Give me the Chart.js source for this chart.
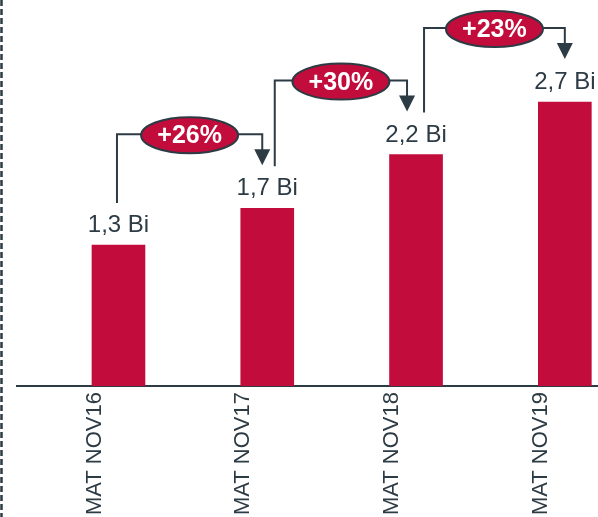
<!DOCTYPE html>
<html>
<head>
<meta charset="utf-8">
<script src="https://cdn.jsdelivr.net/npm/chart.js@4/dist/chart.umd.min.js"></script>
<style>
  body { margin: 0; background: #fff; }
  #wrap { width: 598px; height: 517px; position: relative; }
</style>
</head>
<body>
<div id="wrap"><canvas id="myChart"></canvas></div>
<script>
const categories = ['MAT NOV16', 'MAT NOV17', 'MAT NOV18', 'MAT NOV19'];
const values = [1.34, 1.69, 2.2, 2.7];
const valueLabels = ['1,3 Bi', '1,7 Bi', '2,2 Bi', '2,7 Bi'];
const growth = ['+26%', '+30%', '+23%'];

const red = '#C20C3B';
const slate = '#2D3B45';
const ctx = document.getElementById('myChart');

// where each connector leaves the bar and where its arrow lands
const startDx = [-1.5, 7.5, 8];
const endDx = [-5, -9, 0];

const annotations = {
    id: 'annotations',
    afterDatasetsDraw(chart) {
        const c = chart.ctx;
        const xs = chart.scales.x;
        const ys = chart.scales.y;
        c.save();

        // dashed line on the left edge
        c.strokeStyle = slate;
        c.lineWidth = 2.5;
        c.setLineDash([6, 3]);
        c.beginPath();
        c.moveTo(1.5, 0);
        c.lineTo(1.5, chart.height);
        c.stroke();
        c.setLineDash([]);

        // value labels
        c.fillStyle = slate;
        c.font = '24px "Liberation Sans", Arial, sans-serif';
        c.textAlign = 'center';
        c.textBaseline = 'alphabetic';
        values.forEach((v, i) => {
            c.fillText(valueLabels[i], xs.getPixelForValue(i), ys.getPixelForValue(v) - 13);
        });

        // growth connectors
        growth.forEach((g, i) => {
            const x1 = xs.getPixelForValue(i) + startDx[i];
            const x2 = xs.getPixelForValue(i + 1) + endDx[i];
            const yBottom = ys.getPixelForValue(values[i]) - 42;
            const yLine = ys.getPixelForValue(values[i + 1]) - 74;
            const yTip = ys.getPixelForValue(values[i + 1]) - 43;

            c.strokeStyle = slate;
            c.lineWidth = 2;
            c.beginPath();
            c.moveTo(x1, yBottom);
            c.lineTo(x1, yLine);
            c.lineTo(x2, yLine);
            c.lineTo(x2, yTip - 14);
            c.stroke();

            c.fillStyle = slate;
            c.beginPath();
            c.moveTo(x2 - 8, yTip - 16);
            c.lineTo(x2 + 8, yTip - 16);
            c.lineTo(x2, yTip);
            c.closePath();
            c.fill();

            const cx = (x1 + x2) / 2;
            c.beginPath();
            c.ellipse(cx, yLine + 1, 48.5, 18, 0, 0, Math.PI * 2);
            c.fillStyle = red;
            c.fill();
            c.lineWidth = 2;
            c.strokeStyle = slate;
            c.stroke();

            c.fillStyle = '#fff';
            c.font = 'bold 25px "Liberation Sans", Arial, sans-serif';
            c.textAlign = 'center';
            c.textBaseline = 'middle';
            c.fillText(g, cx, yLine + 2);
        });
        c.restore();
    }
};

new Chart(ctx, {
    type: 'bar',
    data: {
        datasets: [{
            data: values.map((v, i) => ({ x: i, y: v })),
            backgroundColor: red,
            barThickness: 53
        }]
    },
    options: {
        responsive: true,
        maintainAspectRatio: false,
        animation: false,
        layout: { padding: { left: 17, right: 0, top: 0, bottom: 0 } },
        plugins: { legend: { display: false }, tooltip: { enabled: false } },
        scales: {
            x: {
                type: 'linear',
                offset: false,
                min: -0.682,
                max: 3.223,
                afterBuildTicks(scale) {
                    scale.ticks = categories.map((c, i) => ({ value: i }));
                },
                afterFit(scale) {
                    scale.height = 131;
                },
                grid: { display: false, drawTicks: false },
                border: { display: true, color: slate, width: 2 },
                ticks: {
                    autoSkip: false,
                    minRotation: 90,
                    maxRotation: 90,
                    padding: 6,
                    labelOffset: -24,
                    color: slate,
                    font: { family: '"Liberation Sans", Arial, sans-serif', size: 22 },
                    callback: (v, i) => categories[i]
                }
            },
            y: {
                display: false,
                min: 0,
                max: 3.67
            }
        }
    },
    plugins: [annotations]
});
</script>
</body>
</html>
